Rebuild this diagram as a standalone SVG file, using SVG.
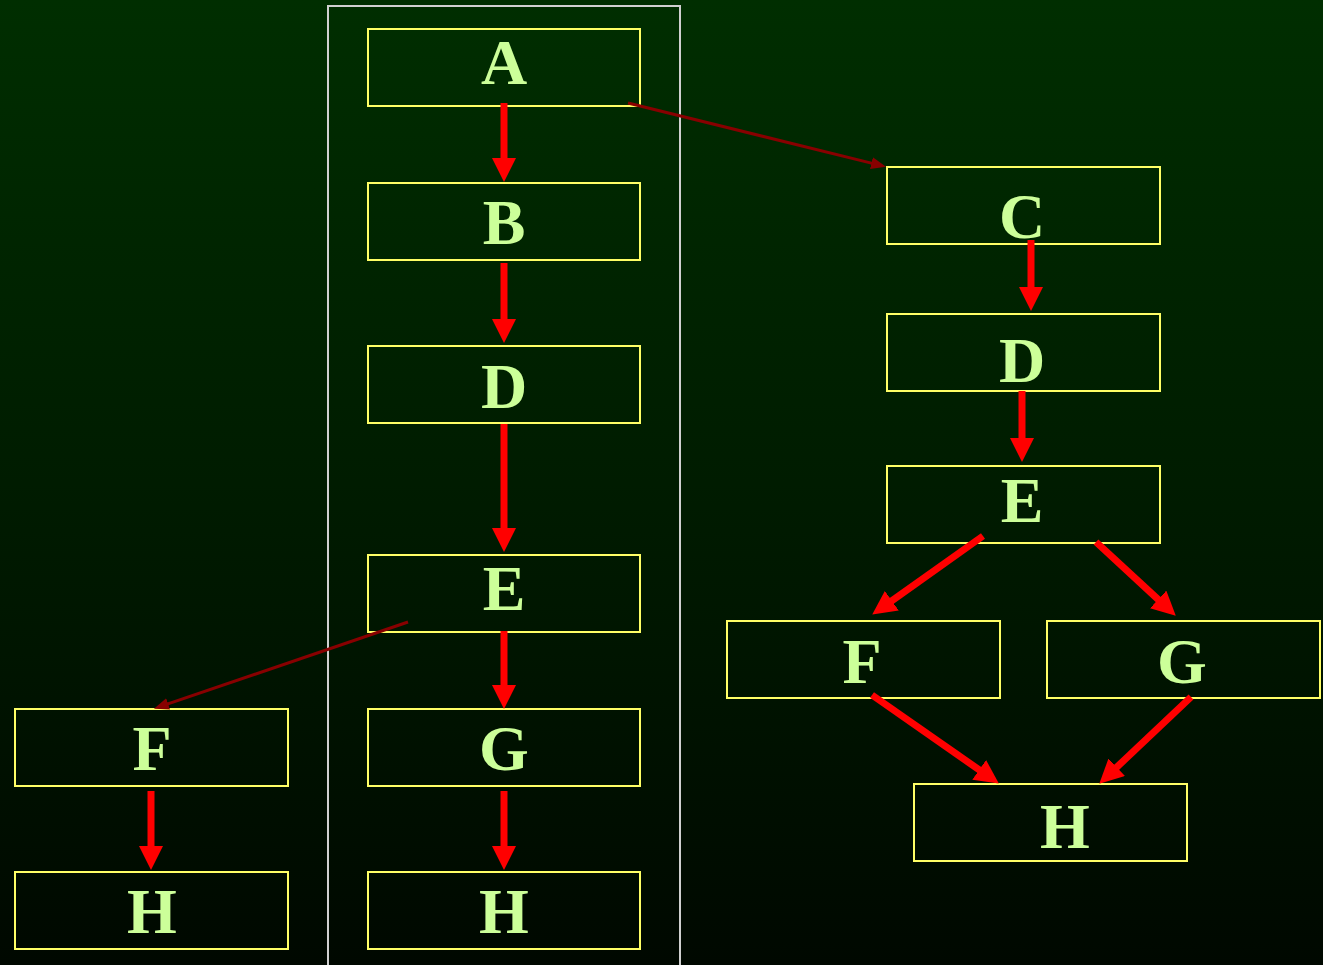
<svg xmlns="http://www.w3.org/2000/svg" width="1323" height="965" viewBox="0 0 1323 965">
<defs>
<linearGradient id="bg" x1="0" y1="0" x2="0" y2="1">
<stop offset="0" stop-color="#002e00"/>
<stop offset="0.5" stop-color="#001c00"/>
<stop offset="1" stop-color="#000800"/>
</linearGradient>
<marker id="hr" markerUnits="userSpaceOnUse" viewBox="0 -12 25 24" markerWidth="25" markerHeight="24" refX="1" refY="0" orient="auto">
<path d="M0,-12 L24,0 L0,12 z" fill="#ff0000"/>
</marker>
<marker id="hd" markerUnits="userSpaceOnUse" viewBox="0 -6 16 12" markerWidth="16" markerHeight="12" refX="1" refY="0" orient="auto">
<path d="M0,-6 L15,0 L0,6 z" fill="#880000"/>
</marker>
</defs>
<style>
.box{fill:none;stroke:#ffff66;stroke-width:2}
.lbl{font-family:"Liberation Serif","Times New Roman",serif;font-weight:bold;font-size:64px;fill:#ccff99;text-anchor:middle}
.red{stroke:#ff0000;stroke-width:7;fill:none;marker-end:url(#hr)}
.dk{stroke:#880000;stroke-width:3;fill:none;marker-end:url(#hd)}
</style>
<rect x="0" y="0" width="1323" height="965" fill="url(#bg)"/>
<rect id="frame" x="328" y="6" width="352" height="970" fill="none" stroke="#d0d0d0" stroke-width="2"/>
<g id="nA"><rect class="box" x="368" y="29" width="272" height="77"/><text class="lbl" x="504" y="84">A</text></g>
<g id="nB"><rect class="box" x="368" y="183" width="272" height="77"/><text class="lbl" x="504" y="244">B</text></g>
<g id="nD"><rect class="box" x="368" y="346" width="272" height="77"/><text class="lbl" x="504" y="408">D</text></g>
<g id="nE"><rect class="box" x="368" y="555" width="272" height="77"/><text class="lbl" x="504" y="610">E</text></g>
<g id="nG"><rect class="box" x="368" y="709" width="272" height="77"/><text class="lbl" x="504" y="770">G</text></g>
<g id="nH"><rect class="box" x="368" y="872" width="272" height="77"/><text class="lbl" x="504" y="933">H</text></g>
<g id="nF2"><rect class="box" x="15" y="709" width="273" height="77"/><text class="lbl" x="152" y="770">F</text></g>
<g id="nH2"><rect class="box" x="15" y="872" width="273" height="77"/><text class="lbl" x="152" y="933">H</text></g>
<g id="nC3"><rect class="box" x="887" y="167" width="273" height="77"/><text class="lbl" x="1022" y="238">C</text></g>
<g id="nD3"><rect class="box" x="887" y="314" width="273" height="77"/><text class="lbl" x="1022" y="382">D</text></g>
<g id="nE3"><rect class="box" x="887" y="466" width="273" height="77"/><text class="lbl" x="1022" y="522">E</text></g>
<g id="nF3"><rect class="box" x="727" y="621" width="273" height="77"/><text class="lbl" x="862" y="683">F</text></g>
<g id="nG3"><rect class="box" x="1047" y="621" width="273" height="77"/><text class="lbl" x="1182" y="683">G</text></g>
<g id="nH3"><rect class="box" x="914" y="784" width="273" height="77"/><text class="lbl" x="1065" y="848">H</text></g>
<g id="connectors">
<line class="red" x1="504" y1="103" x2="504" y2="159"/>
<line class="red" x1="504" y1="263" x2="504" y2="320"/>
<line class="red" x1="504" y1="424" x2="504" y2="529"/>
<line class="red" x1="504" y1="631" x2="504" y2="686"/>
<line class="red" x1="504" y1="791" x2="504" y2="847"/>
<line class="red" x1="151" y1="791" x2="151" y2="847"/>
<line class="red" x1="1031" y1="240" x2="1031" y2="288"/>
<line class="red" x1="1022" y1="391" x2="1022" y2="439"/>
<line class="red" x1="983" y1="536" x2="891" y2="601.3"/>
<line class="red" x1="1096" y1="542" x2="1158.9" y2="600.1"/>
<line class="red" x1="872" y1="695" x2="980" y2="770.4"/>
<line class="red" x1="1191" y1="697" x2="1116" y2="767.9"/>
<line class="dk" x1="628" y1="103" x2="872.4" y2="163.4"/>
<line class="dk" x1="408" y1="622" x2="167.2" y2="704.2"/>
</g>
</svg>
